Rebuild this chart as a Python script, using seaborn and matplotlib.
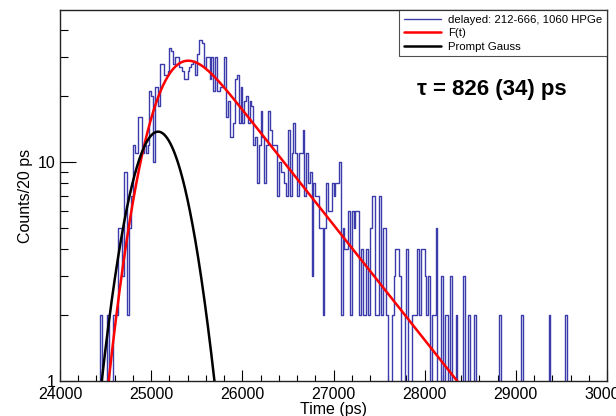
import math
import numpy as np
import pandas as pd
import matplotlib
matplotlib.use("Agg")
import matplotlib.pyplot as plt
from matplotlib.lines import Line2D
from matplotlib.ticker import FixedLocator, FixedFormatter, NullFormatter
import seaborn as sns

# ---------------- data ----------------
bin_width = 20            # ps
x_min, x_max = 24000, 30000
first_bin = 24440         # start time of first listed bin
counts_main = [
    2, 0, 0, 0, 2, 0, 0, 2, 2, 2, 5, 5, 3, 9, 9, 2, 5, 7, 12, 11,
    11, 16, 16, 11, 12, 11, 12, 21, 20, 10, 22, 22, 18, 28, 28, 25, 25, 26, 33, 32,
    28, 30, 30, 27, 27, 26, 24, 24, 26, 27, 28, 29, 25, 31, 36, 36, 35, 27, 30, 30,
    24, 30, 21, 30, 21, 21, 22, 22, 30, 16, 19, 13, 13, 15, 24, 25, 15, 22, 15, 19,
    20, 15, 19, 18, 12, 13, 8, 12, 17, 13, 8, 12, 17, 14, 12, 12, 12, 7, 10, 9,
    9, 8, 7, 14, 7, 11, 15, 11, 7, 11, 11, 14, 7, 11, 8, 9, 3, 8, 7, 7,
    5, 5, 2, 5, 8, 6, 6, 8, 7, 8, 8, 10, 2, 5, 4, 4, 6, 2, 6, 5,
    6, 6, 2, 4, 2, 2, 4, 2, 5, 7, 7, 2, 2, 7, 2, 5, 5, 2, 0, 0,
    2, 3, 4, 4, 3, 0, 0, 2, 4, 0, 0, 2, 2, 2, 4, 2, 4, 4, 3, 2,
    3, 0, 2, 2, 5, 0, 0, 3, 0, 2, 2, 0, 3, 0, 0, 2, 0, 0, 0, 3,
    0, 0, 2, 0, 0, 2,
]
tail_bins = [28820, 29060, 29360, 29540]
tail_counts = [2, 2, 2, 2]

# fit parameters
tau = 826.0          # ps, lifetime
tau_err = 34
sigma = 270.0        # ps, prompt width
mu = 25076.0         # ps, prompt centroid
fit_amp = 50.3
gauss_amp = 13.75

y_min, y_max = 1.0, 49.4

# ---------------- build histogram ----------------
n_bins = (x_max - x_min) // bin_width
centers = x_min + bin_width * np.arange(n_bins) + bin_width / 2
counts = np.zeros(n_bins)
i0 = (first_bin - x_min) // bin_width
counts[i0:i0 + len(counts_main)] = counts_main
for tb, tc in zip(tail_bins, tail_counts):
    counts[(tb - x_min) // bin_width] = tc
hist_df = pd.DataFrame({"time": centers, "counts": counts})

# ---------------- model curves ----------------
t = np.linspace(x_min, x_max, 2401)
erfc_v = np.vectorize(math.erfc)
F = 0.5 * fit_amp * np.exp(sigma**2 / (2 * tau**2) - (t - mu) / tau) * \
    erfc_v((sigma**2 / tau - (t - mu)) / (sigma * math.sqrt(2)))
G = gauss_amp * np.exp(-0.5 * ((t - mu) / sigma) ** 2)
F = np.clip(F, 1e-6, None)
G = np.clip(G, 1e-6, None)
curve_df = pd.DataFrame({"time": t, "F": F, "G": G})

# ---------------- plot ----------------
sns.set_style("white")
plt.rcParams["font.family"] = ["Liberation Sans", "DejaVu Sans"]
plt.rcParams["text.color"] = "black"
plt.rcParams["axes.labelcolor"] = "black"
plt.rcParams["xtick.color"] = "black"
plt.rcParams["ytick.color"] = "black"

fig = plt.figure(figsize=(6.16, 4.16), dpi=100)
ax = fig.add_axes([60 / 616, 35 / 416, 547 / 616, 371 / 416])

hist_color = "#3b3bab"
sns.histplot(data=hist_df, x="time", weights="counts", binwidth=bin_width,
             binrange=(x_min, x_max), element="step", fill=False,
             color=hist_color, linewidth=1.0, ax=ax)
sns.lineplot(data=curve_df, x="time", y="F", color="#ff0000", linewidth=1.8,
             ax=ax, errorbar=None, sort=False)
sns.lineplot(data=curve_df, x="time", y="G", color="black", linewidth=1.8,
             ax=ax, errorbar=None, sort=False)

ax.set_yscale("log")
ax.set_xlim(x_min, x_max)
ax.set_ylim(y_min, y_max)

ax.xaxis.set_major_locator(FixedLocator(np.arange(24000, 30001, 1000)))
ax.xaxis.set_minor_locator(FixedLocator(np.arange(24000, 30001, 200)))
ax.yaxis.set_major_locator(FixedLocator([1, 10]))
ax.yaxis.set_major_formatter(FixedFormatter(["1", "10"]))
ax.yaxis.set_minor_locator(FixedLocator([2, 3, 4, 5, 6, 7, 8, 9, 20, 30, 40]))
ax.yaxis.set_minor_formatter(NullFormatter())

ax.tick_params(axis="x", which="major", direction="in", length=8, width=0.8,
               labelsize=11.5, pad=4, bottom=True, top=False, colors="black")
ax.tick_params(axis="x", which="minor", direction="in", length=4, width=0.8,
               bottom=True, top=False, colors="black")
ax.tick_params(axis="y", which="major", direction="in", length=11.5, width=0.8,
               labelsize=11.5, pad=3, left=True, right=False, colors="black")
ax.tick_params(axis="y", which="minor", direction="in", length=5.8, width=0.8,
               left=True, right=False, colors="black")

for s in ax.spines.values():
    s.set_color("#222222")
    s.set_linewidth(1.0)

ax.set_xlabel("Time (ps)", fontsize=11.5, labelpad=0, color="black")
ax.set_ylabel("Counts/20 ps", fontsize=11.5, labelpad=4, color="black")

handles = [Line2D([], [], color=hist_color, lw=1.0),
           Line2D([], [], color="#ff0000", lw=1.8),
           Line2D([], [], color="black", lw=1.8)]
labels = ["delayed: 212-666, 1060 HPGe", "F(t)", "Prompt Gauss"]
leg = ax.legend(handles, labels, loc="upper right", bbox_to_anchor=(1.0, 1.0),
                borderaxespad=0, fontsize=8.2, frameon=True, fancybox=False,
                edgecolor="#222222", handlelength=3.3, handletextpad=0.6,
                labelspacing=0.32, borderpad=0.4)
leg.get_frame().set_linewidth(0.8)
for txt in leg.get_texts():
    txt.set_color("black")

ax.text(0.652, 0.785, f"\u03c4 = {int(tau)} ({tau_err}) ps", transform=ax.transAxes,
        fontsize=16, fontweight="bold", ha="left", va="center", color="black")

fig.savefig("out.png", dpi=100)
